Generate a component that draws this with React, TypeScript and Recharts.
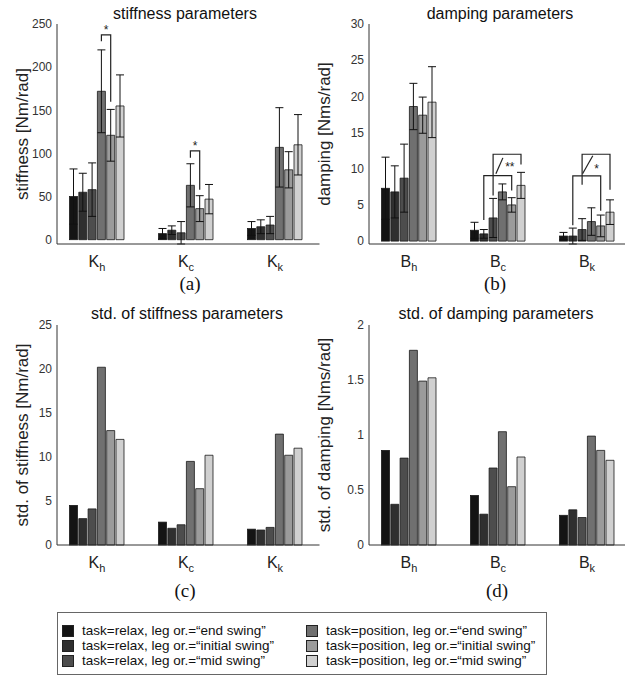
import React from 'react';
import { BarChart, Bar, XAxis, YAxis, ErrorBar } from 'recharts';

// categories (base_subscript)
const stiffnessCats = ['K_h', 'K_c', 'K_k'];
const dampingCats = ['B_h', 'B_c', 'B_k'];

const seriesNames = [
  'task=relax, leg or.=“end swing”',
  'task=relax, leg or.=“initial swing”',
  'task=relax, leg or.=“mid swing”',
  'task=position, leg or.=“end swing”',
  'task=position, leg or.=“initial swing”',
  'task=position, leg or.=“mid swing”',
];
const seriesColors = ['#141414', '#2f2f2f', '#4d4d4d', '#707070', '#9b9b9b', '#d0d0d0'];

// (a) stiffness mean and error, per category
const stiffKh = [50, 55, 58, 172, 121, 155];
const stiffKc = [7, 11, 8, 63, 36, 47];
const stiffKk = [13, 15, 17, 107, 81, 110];
const stiffErrKh = [32, 22, 31, 48, 30, 36];
const stiffErrKc = [6, 5, 13, 25, 15, 17];
const stiffErrKk = [8, 8, 10, 46, 21, 35];

// (b) damping mean and error
const dampBh = [7.3, 6.8, 8.7, 18.6, 17.4, 19.2];
const dampBc = [1.5, 1.0, 3.2, 6.8, 5.0, 7.7];
const dampBk = [0.7, 0.7, 1.6, 2.7, 2.1, 4.0];
const dampErrBh = [4.3, 3.6, 4.7, 3.2, 2.5, 4.9];
const dampErrBc = [1.1, 0.6, 2.7, 1.1, 1.0, 1.8];
const dampErrBk = [0.5, 1.1, 1.5, 1.9, 1.5, 1.7];

// (c) std of stiffness
const stdStiffKh = [4.5, 3.0, 4.1, 20.2, 13.0, 12.0];
const stdStiffKc = [2.6, 1.9, 2.3, 9.5, 6.4, 10.2];
const stdStiffKk = [1.8, 1.7, 2.0, 12.6, 10.2, 11.0];

// (d) std of damping
const stdDampBh = [0.86, 0.37, 0.79, 1.77, 1.49, 1.52];
const stdDampBc = [0.45, 0.28, 0.70, 1.03, 0.53, 0.80];
const stdDampBk = [0.27, 0.32, 0.25, 0.99, 0.86, 0.77];

// significance brackets (values in data units)
const bracketsA = [
  { cat: 0, from: 3, to: 4, top: 237.5, fromEnd: 230, toEnd: 160 },
  { cat: 1, from: 3, to: 4, top: 103, fromEnd: 95, toEnd: 58 },
];
const marksA = [
  { cat: 0, at: 3.5, y: 246, text: '*' },
  { cat: 1, at: 3.5, y: 112, text: '*' },
];
const bracketsB = [
  { cat: 1, from: 1, to: 4, top: 9.05, fromEnd: 2.9, toEnd: 7.0 },
  { cat: 1, from: 2, to: 5, top: 12.0, fromEnd: 6.3, toEnd: 10.6 },
  { cat: 2, from: 1, to: 4, top: 9.0, fromEnd: 2.2, toEnd: 4.2 },
  { cat: 2, from: 2, to: 5, top: 12.0, fromEnd: 7.8, toEnd: 7.1 },
];
const slashesB = [
  { cat: 1, from: 2.3, to: 3.05, y1: 9.3, y2: 11.5 },
  { cat: 2, from: 2.05, to: 3.15, y1: 9.3, y2: 11.8 },
];
const marksB = [
  { cat: 1, at: 3.8, y: 10.6, text: '**' },
  { cat: 2, at: 3.55, y: 10.4, text: '*' },
];

const BAR_SIZE = 8;
const BAR_GAP = 1.3;
const FONT = '"Liberation Sans", Arial, sans-serif';

const buildRows = (cats: string[], means: number[][], errs?: number[][]) =>
  cats.map((name, ci) => {
    const row: Record<string, any> = { name };
    means[ci].forEach((v, i) => (row['s' + i] = v));
    if (errs) errs[ci].forEach((e, i) => (row['e' + i] = e));
    return row;
  });

const SubTick = (props: any) => {
  const { x, y, payload } = props;
  const [base, sub] = String(payload.value).split('_');
  return (
    <text x={x} y={y + 15} textAnchor="middle" fontSize={16} fill="#222" fontFamily={FONT}>
      <tspan>{base}</tspan>
      <tspan dy={4} fontSize={11}>{sub}</tspan>
    </text>
  );
};

// draws series-0 rect plus the bracket annotations that sit over the same category
const makeShape = (brackets: any[], slashes: any[], marks: any[]) => (p: any) => {
  const { x, y, width, height, index, payload, fill, stroke } = p;
  const v = payload.s0;
  const k = height / v;
  const base = y + height;
  const py = (val: number) => base - val * k;
  const cx = (s: number) => x + s * (BAR_SIZE + BAR_GAP) + width / 2;
  return (
    <g>
      <rect x={x} y={y} width={width} height={height} fill={fill} stroke={stroke} strokeWidth={0.8} />
      {brackets.filter((b) => b.cat === index).map((b, i) => (
        <path key={'b' + i}
          d={`M${cx(b.from)},${py(b.fromEnd)}V${py(b.top)}H${cx(b.to)}V${py(b.toEnd)}`}
          fill="none" stroke="#222" strokeWidth={1.2} />
      ))}
      {slashes.filter((s) => s.cat === index).map((s, i) => (
        <line key={'s' + i} x1={cx(s.from)} y1={py(s.y1)} x2={cx(s.to)} y2={py(s.y2)} stroke="#222" strokeWidth={1.2} />
      ))}
      {marks.filter((m) => m.cat === index).map((m, i) => (
        <text key={'m' + i} x={cx(m.at)} y={py(m.y) + 7} textAnchor="middle" fontSize={12} fill="#222" fontFamily={FONT}>{m.text}</text>
      ))}
    </g>
  );
};

const Panel = (props: any) => {
  const { left, top, rows, domain, ticks, yLabel, labelOffset, hasErrors, margin, brackets = [], slashes = [], marks = [] } = props;
  const shape = makeShape(brackets, slashes, marks);
  return (
    <div style={{ position: 'absolute', left, top }}>
      <BarChart width={330} height={300} data={rows} margin={margin} barGap={BAR_GAP}>
        <XAxis dataKey="name" tick={<SubTick />} tickLine={false} axisLine={{ stroke: '#333' }} height={30} interval={0}
          padding={{ left: -4.5, right: 0 }} />
        <YAxis
          domain={domain}
          ticks={ticks}
          width={57}
          tickLine={false}
          tickSize={3}
          tickMargin={2}
          axisLine={{ stroke: '#333' }}
          tick={{ fontSize: 12, fill: '#333', fontFamily: FONT }}
          label={{ value: yLabel, angle: -90, position: 'insideLeft', offset: labelOffset, style: { textAnchor: 'middle', fontSize: 17, fill: '#222', fontFamily: FONT } }}
        />
        {seriesColors.map((c, i) => (
          <Bar key={i} dataKey={'s' + i} name={seriesNames[i]} fill={c} stroke="#1a1a1a" strokeWidth={0.8}
            barSize={BAR_SIZE} isAnimationActive={false} shape={i === 0 ? shape : undefined}>
            {hasErrors && <ErrorBar dataKey={'e' + i} width={4} stroke="#111" strokeWidth={1} />}
          </Bar>
        ))}
      </BarChart>
    </div>
  );
};

const titles = [
  { x: 185, y: 19, text: 'stiffness parameters' },
  { x: 500, y: 19, text: 'damping parameters' },
  { x: 187, y: 319, text: 'std. of stiffness parameters' },
  { x: 496, y: 319, text: 'std. of damping parameters' },
];
const panelTags = [
  { x: 190, y: 290, text: '(a)' },
  { x: 495, y: 290, text: '(b)' },
  { x: 185, y: 597, text: '(c)' },
  { x: 497, y: 597, text: '(d)' },
];

export default function App() {
  const rowsA = buildRows(stiffnessCats, [stiffKh, stiffKc, stiffKk], [stiffErrKh, stiffErrKc, stiffErrKk]);
  const rowsB = buildRows(dampingCats, [dampBh, dampBc, dampBk], [dampErrBh, dampErrBc, dampErrBk]);
  const rowsC = buildRows(stiffnessCats, [stdStiffKh, stdStiffKc, stdStiffKk]);
  const rowsD = buildRows(dampingCats, [stdDampBh, stdDampBc, stdDampBk]);
  const topMargin = { top: 24, right: 10.5, bottom: 26, left: 0 };
  const botMargin = { top: 25, right: 10.5, bottom: 25, left: 0 };

  return (
    <div style={{ position: 'absolute', left: 0, top: 0, width: 625, height: 677, overflow: 'hidden', background: '#fff', fontFamily: FONT }}>
      <Panel left={0} top={0} rows={rowsA} domain={[0, 250]} ticks={[0, 50, 100, 150, 200, 250]}
        yLabel="stiffness [Nm/rad]" labelOffset={22} hasErrors margin={topMargin}
        brackets={bracketsA} marks={marksA} />
      <Panel left={312} top={0} rows={rowsB} domain={[0, 30]} ticks={[0, 5, 10, 15, 20, 25, 30]}
        yLabel="damping [Nms/rad]" labelOffset={12} hasErrors margin={topMargin}
        brackets={bracketsB} slashes={slashesB} marks={marksB} />
      <Panel left={0} top={300} rows={rowsC} domain={[0, 25]} ticks={[0, 5, 10, 15, 20, 25]}
        yLabel="std. of stiffness [Nm/rad]" labelOffset={22} margin={botMargin} />
      <Panel left={312} top={300} rows={rowsD} domain={[0, 2]} ticks={[0, 0.5, 1, 1.5, 2]}
        yLabel="std. of damping [Nms/rad]" labelOffset={12} margin={botMargin} />

      <svg width={625} height={677} style={{ position: 'absolute', left: 0, top: 0, pointerEvents: 'none' }}>
        {titles.map((t) => (
          <text key={t.text} x={t.x} y={t.y} textAnchor="middle" fontSize={16} fill="#111" fontFamily={FONT}>{t.text}</text>
        ))}
        {panelTags.map((t) => (
          <text key={t.text} x={t.x} y={t.y} textAnchor="middle" fontSize={19} fill="#111" fontFamily='"Liberation Serif", "Times New Roman", serif'>{t.text}</text>
        ))}
      </svg>

      <div style={{
        position: 'absolute', left: 57, top: 612, width: 488, height: 51,
        border: '1.5px solid #666', display: 'grid', gridTemplateColumns: '244px 244px',
        gridAutoFlow: 'column', gridTemplateRows: 'repeat(3, 15px)', padding: '10px 0 0 0', boxSizing: 'content-box',
      }}>
        {seriesNames.map((n, i) => (
          <div key={n} style={{ display: 'flex', alignItems: 'center', fontSize: 13.5, lineHeight: '15px', color: '#111', whiteSpace: 'nowrap', paddingLeft: 4 }}>
            <span style={{ display: 'inline-block', width: 10, height: 10, background: seriesColors[i], border: '1px solid #222', marginRight: 8 }} />
            {n}
          </div>
        ))}
      </div>
    </div>
  );
}
